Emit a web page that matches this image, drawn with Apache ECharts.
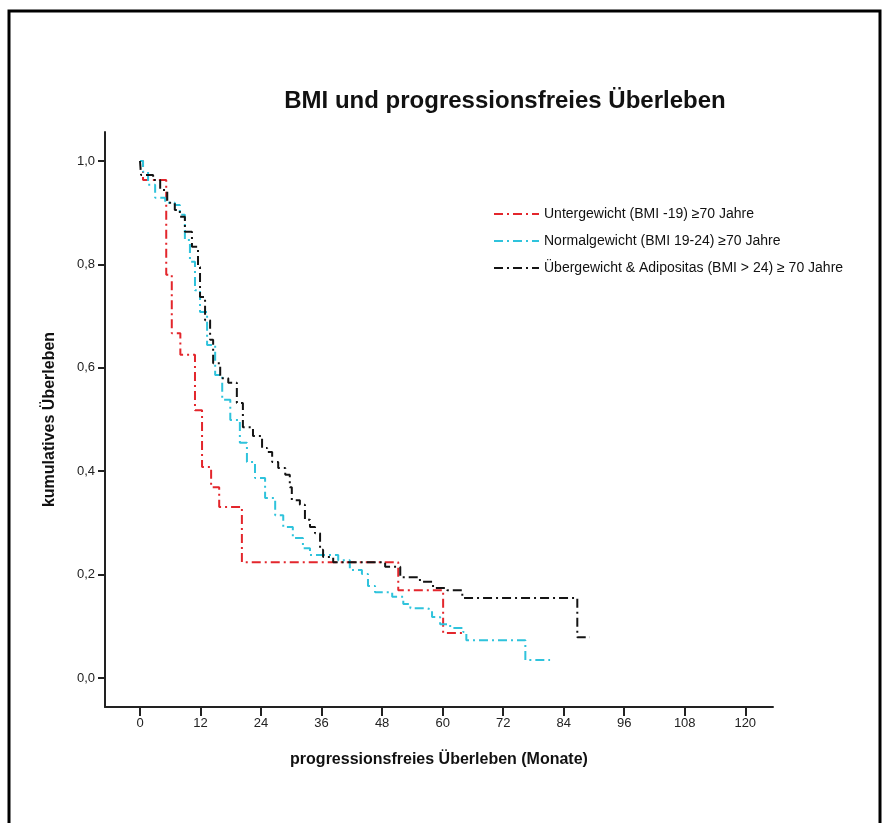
<!DOCTYPE html>
<html>
<head>
<meta charset="utf-8">
<script src="https://cdn.jsdelivr.net/npm/echarts@6/dist/echarts.min.js"></script>
<style>
html,body{margin:0;padding:0;background:#fff;}
#chart{width:883px;height:823px;}
</style>
</head>
<body>
<div id="chart"></div>
<script>
// ---- data (months, cumulative survival) ----
const seriesNames = [
  'Untergewicht (BMI -19) \u226570 Jahre',
  'Normalgewicht (BMI 19-24) \u226570 Jahre',
  '\u00dcbergewicht & Adipositas (BMI > 24) \u2265 70 Jahre'
];
const untergewicht = [
  [0,1.0],[0.6,0.963],[5.2,0.78],[6.3,0.667],[8.0,0.625],[10.9,0.518],
  [12.3,0.408],[14.1,0.369],[15.7,0.331],[20.2,0.224],[51.2,0.170],
  [60.1,0.087],[64.3,0.087]
];
const normalgewicht = [
  [0,1.0],[0.6,0.979],[1.6,0.954],[3.0,0.929],[5.0,0.919],[6.9,0.915],
  [7.9,0.896],[8.9,0.847],[9.9,0.805],[10.9,0.75],[11.9,0.708],[13.3,0.644],
  [14.9,0.586],[16.3,0.538],[17.9,0.499],[19.8,0.455],[21.2,0.418],[22.8,0.387],
  [24.8,0.348],[26.8,0.315],[28.4,0.292],[30.3,0.271],[32.3,0.251],[33.7,0.238],
  [38.3,0.238],[39.3,0.228],[41.6,0.209],[44.0,0.201],[45.2,0.178],[46.6,0.166],
  [50.0,0.157],[52.2,0.143],[53.6,0.135],[56.9,0.132],[57.9,0.118],[59.5,0.104],
  [61.5,0.097],[64.1,0.089],[64.7,0.073],[76.4,0.035],[81.3,0.035]
];
const uebergewicht = [
  [0,1.0],[0.2,0.973],[2.6,0.963],[4.0,0.944],[5.4,0.919],[6.9,0.905],
  [7.9,0.892],[8.9,0.863],[10.3,0.834],[11.5,0.795],[11.9,0.737],[12.9,0.692],
  [13.9,0.654],[14.5,0.609],[15.9,0.580],[17.5,0.571],[19.2,0.532],[20.4,0.485],
  [22.4,0.468],[24.2,0.445],[25.2,0.437],[26.2,0.418],[27.4,0.406],[28.8,0.393],
  [29.7,0.369],[30.1,0.344],[31.7,0.335],[32.7,0.306],[33.7,0.292],[34.7,0.280],
  [35.7,0.248],[36.3,0.234],[38.3,0.224],[48.6,0.215],[51.6,0.195],[55.5,0.186],
  [58.1,0.174],[60.9,0.170],[63.9,0.155],[86.7,0.079],[89.2,0.079]
];
const xTicks = [0,12,24,36,48,60,72,84,96,108,120];
const yTicks = [0,0.2,0.4,0.6,0.8,1.0];

const colors = ['#e3262c','#2fc3dc','#141414'];
const font = "'Liberation Sans', Arial, Helvetica, sans-serif";
const dash = [9,4,2,4];

const chart = echarts.init(document.getElementById('chart'), null, {renderer:'canvas'});
const mk = (name, data, color) => ({
  name, type:'line', data, step:'end', showSymbol:false, symbol:'none',
  color, lineStyle:{color, width:2, type:dash}, animation:false, z:3
});
chart.setOption({
  backgroundColor:'#fff',
  animation:false,
  title:{
    text:'BMI und progressionsfreies \u00dcberleben',
    left:500, top:84, textAlign:'center',
    textStyle:{fontFamily:"'Liberation Sans Narrow','Arial Narrow',"+font, fontSize:24, fontWeight:'bold', color:'#111'}
  },
  legend:{
    orient:'vertical', left:488, top:202, itemWidth:45, itemHeight:14, itemGap:13,
    itemStyle:{opacity:0},
    textStyle:{fontFamily:font, fontSize:14, color:'#111'},
    data:seriesNames
  },
  grid:{left:105, right:110, top:132, bottom:116, containLabel:false},
  xAxis:{
    type:'value', min:-6.94, max:125.5,
    name:'progressionsfreies \u00dcberleben (Monate)', nameLocation:'middle', nameGap:45,
    nameTextStyle:{fontFamily:font, fontSize:16, fontWeight:'bold', color:'#111'},
    axisLine:{show:true, onZero:false, lineStyle:{color:'#222', width:2}},
    axisTick:{show:true, inside:false, length:9, lineStyle:{color:'#222', width:2}, customValues:xTicks},
    axisLabel:{customValues:xTicks, fontFamily:font, fontSize:13, color:'#222', margin:10},
    splitLine:{show:false}
  },
  yAxis:{
    type:'value', min:-0.056, max:1.056,
    name:'kumulatives \u00dcberleben', nameLocation:'middle', nameGap:47, nameRotate:90,
    nameTextStyle:{fontFamily:font, fontSize:16, fontWeight:'bold', color:'#111'},
    axisLine:{show:true, onZero:false, lineStyle:{color:'#222', width:2}},
    axisTick:{show:true, inside:false, length:7, lineStyle:{color:'#222', width:2}, customValues:yTicks},
    axisLabel:{customValues:yTicks, fontFamily:font, fontSize:13, color:'#222', margin:10,
      formatter:v=>v.toFixed(1).replace('.',',')},
    splitLine:{show:false}
  },
  graphic:[{
    type:'rect', shape:{x:9, y:11, width:871, height:830},
    style:{fill:'none', stroke:'#000', lineWidth:3}, silent:true
  }],
  series:[
    mk(seriesNames[0], untergewicht, colors[0]),
    mk(seriesNames[1], normalgewicht, colors[1]),
    mk(seriesNames[2], uebergewicht, colors[2])
  ]
});
</script>
</body>
</html>
